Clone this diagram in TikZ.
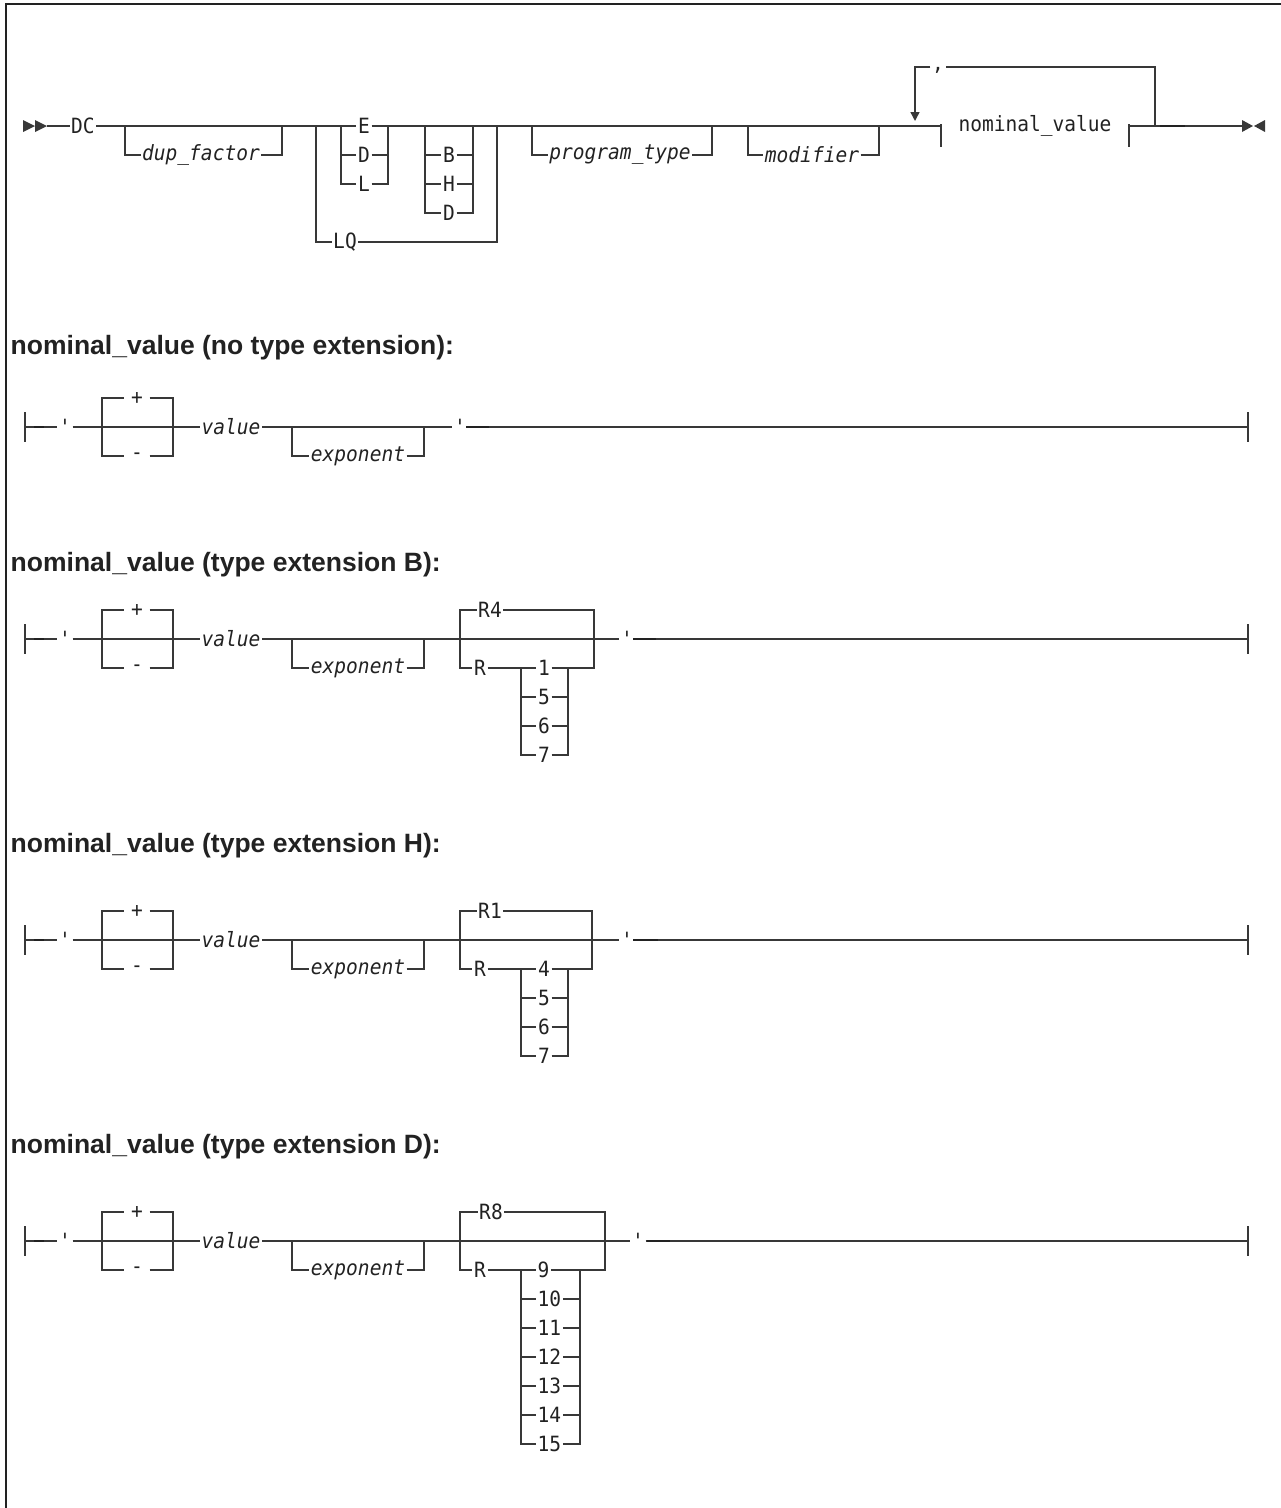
\documentclass[tikz,border=0pt]{standalone}
\usepackage{fontspec}
\setmainfont{Liberation Sans}
\setsansfont{Liberation Sans}
\setmonofont[FakeStretch=0.93]{DejaVu Sans Mono}
\usetikzlibrary{arrows.meta}

\definecolor{railgray}{HTML}{383838}
\definecolor{inkgray}{HTML}{222222}

\tikzset{
  kw/.style={font=\fontsize{21}{22}\selectfont\ttfamily, text=inkgray, inner sep=1pt},
  var/.style={font=\fontsize{21}{22}\selectfont\ttfamily\itshape, text=inkgray, inner sep=1pt},
  sign/.style={kw, inner xsep=6pt},
  heading/.style={font=\fontsize{26.5}{28}\selectfont\sffamily\bfseries, text=inkgray, anchor=west, inner sep=0pt},
  stub/.style={line width=2.6pt, draw=inkgray},
  frame/.style={line width=2.4pt, draw=inkgray},
}

% common start of every nominal_value diagram
\newcommand\signvalue{%
  \coordinate (st) at (25,0);
  \node[kw] (q1) at (65,0) {'};
  \coordinate (s1) at (102,0);
  \coordinate (s2) at (173,0);
  \node[sign] (plus) at (137,-29) {+};
  \node[sign] (minus) at (137,29) {-};
  \node[var] (val) at (231,0) {value};
  \coordinate (x1) at (292,0);
  \coordinate (x2) at (424,0);
  \node[var] (expo) at (358,29) {exponent};
  \draw ([yshift=15pt]st) -- ([yshift=-15pt]st);
  \draw (st) -- (q1) -- (s1) -- (val) -- (x1) -- (x2);
  \draw[stub] ([xshift=9pt]st) -- ([xshift=19pt]st);
  \draw (s1) |- (plus) -| (s2);
  \draw (s1) |- (minus) -| (s2);
  \draw (x1) |- (expo) -| (x2);
}

\begin{document}
\begin{tikzpicture}[x=1pt,y=-1pt,color=railgray,line width=1.4pt]
\useasboundingbox (0,0) rectangle (1281,1508);
\draw[frame] (6,1508) -- (6,4) -- (1281,4);

% DC statement
\fill (23,120) -- (35,126) -- (23,132) -- cycle;
\fill (35,120) -- (47,126) -- (35,132) -- cycle;
\coordinate (go) at (47,126);
\node[kw] (dc) at (83,126) {DC};
\coordinate (j1) at (125,126);
\coordinate (j2) at (282,126);
\node[var] (dup) at (201,155) {dup\_factor};
\coordinate (q1) at (316,126);
\coordinate (e1) at (341,126);
\coordinate (e2) at (388,126);
\node[kw] (E) at (364,126) {E};
\node[kw] (D) at (364,155) {D};
\node[kw] (L) at (364,184) {L};
\coordinate (b1) at (425,126);
\coordinate (b2) at (473,126);
\node[kw] (B) at (449,155) {B};
\node[kw] (H) at (449,184) {H};
\node[kw] (D2) at (449,213) {D};
\coordinate (q2) at (497,126);
\node[kw] (LQ) at (345,242) {LQ};
\coordinate (p1) at (532,126);
\coordinate (p2) at (712,126);
\node[var] (prog) at (620,155) {program\_type};
\coordinate (m1) at (748,126);
\coordinate (m2) at (879,126);
\node[var] (mod) at (812,155) {modifier};
\coordinate (r1) at (915,126);
\coordinate (rt) at (915,121);
\node[kw, inner xsep=17pt] (nv) at (1035,126) {nominal\_value};
\coordinate (r2) at (1155,126);
\node[kw, text height=6pt, text depth=0pt] (cm) at (938,67) {,};
\coordinate (ea) at (1242,126);

\draw (go) -- (dc) -- (j1) -- (j2) -- (q1) -- (e1) -- (E) -- (e2) -- (b1) -- (b2) -- (q2) -- (p1) -- (p2) -- (m1) -- (m2) -- (nv.west);
\draw (j1) |- (dup) -| (j2);
\draw (e1 |- D) -- (D) -- (e2 |- D);
\draw (e1) |- (L) -| (e2);
\draw (b1 |- B) -- (B) -- (b2 |- B);
\draw (b1 |- H) -- (H) -- (b2 |- H);
\draw (b1) |- (D2) -| (b2);
\draw (q1) |- (LQ) -| (q2);
\draw (p1) |- (prog) -| (p2);
\draw (m1) |- (mod) -| (m2);
\draw ([yshift=2pt]nv.west) -- ([yshift=-21pt]nv.west);
\draw ([yshift=2pt]nv.east) -- ([yshift=-21pt]nv.east);
\draw (nv.east) -- (r2) -- (ea);
\draw[-{Triangle[width=9pt,length=9pt]}] (r2) |- (cm) -| (rt);
\draw[stub] ([xshift=5pt]r2) -- ([xshift=30pt]r2);
\fill (ea) ++(0,-6) -- ++(11,6) -- ++(-11,6) -- cycle;
\fill (ea) ++(23,-6) -- ++(-11,6) -- ++(11,6) -- cycle;

% no type extension
\node[heading] (h1) at (10,348) {nominal\_value (no type extension):};
\begin{scope}[shift={(0,427)}, name prefix=a-]
  \signvalue
  \node[kw] (q2) at (460,0) {'};
  \coordinate (fin) at (1248,0);
  \draw (x2) -- (q2) -- (fin);
  \draw[stub] ([xshift=6pt]q2.center) -- ([xshift=29pt]q2.center);
  \draw ([yshift=15pt]fin) -- ([yshift=-15pt]fin);
\end{scope}

% type extension B
\node[heading] (h2) at (10,565) {nominal\_value (type extension B):};
\begin{scope}[shift={(0,639)}, name prefix=b-]
  \signvalue
  \coordinate (g1) at (460,0);
  \coordinate (g2) at (594,0);
  \node[kw] (rdef) at (490,-29) {R4};
  \node[kw] (rr) at (480,29) {R};
  \coordinate (k1) at (521,29);
  \coordinate (k2) at (568,29);
  \node[kw] (n1) at (544,29) {1};
  \node[kw] (n2) at (544,58) {5};
  \node[kw] (n3) at (544,87) {6};
  \node[kw] (n4) at (544,116) {7};
  \node[kw] (q2) at (627,0) {'};
  \coordinate (fin) at (1248,0);
  \draw (x2) -- (g1) -- (g2) -- (q2) -- (fin);
  \draw (g1) |- (rdef) -| (g2);
  \draw (g1) |- (rr) -- (k1) -- (n1) -- (k2) -| (g2);
  \draw (k1 |- n2) -- (n2) -- (k2 |- n2);
  \draw (k1 |- n3) -- (n3) -- (k2 |- n3);
  \draw (k1) |- (n4) -| (k2);
  \draw[stub] ([xshift=6pt]q2.center) -- ([xshift=29pt]q2.center);
  \draw ([yshift=15pt]fin) -- ([yshift=-15pt]fin);
\end{scope}

% type extension H
\node[heading] (h3) at (10,846) {nominal\_value (type extension H):};
\begin{scope}[shift={(0,940)}, name prefix=c-]
  \signvalue
  \coordinate (g1) at (460,0);
  \coordinate (g2) at (592,0);
  \node[kw] (rdef) at (490,-29) {R1};
  \node[kw] (rr) at (480,29) {R};
  \coordinate (k1) at (521,29);
  \coordinate (k2) at (568,29);
  \node[kw] (n1) at (544,29) {4};
  \node[kw] (n2) at (544,58) {5};
  \node[kw] (n3) at (544,87) {6};
  \node[kw] (n4) at (544,116) {7};
  \node[kw] (q2) at (627,0) {'};
  \coordinate (fin) at (1248,0);
  \draw (x2) -- (g1) -- (g2) -- (q2) -- (fin);
  \draw (g1) |- (rdef) -| (g2);
  \draw (g1) |- (rr) -- (k1) -- (n1) -- (k2) -| (g2);
  \draw (k1 |- n2) -- (n2) -- (k2 |- n2);
  \draw (k1 |- n3) -- (n3) -- (k2 |- n3);
  \draw (k1) |- (n4) -| (k2);
  \draw[stub] ([xshift=6pt]q2.center) -- ([xshift=31pt]q2.center);
  \draw ([yshift=15pt]fin) -- ([yshift=-15pt]fin);
\end{scope}

% type extension D
\node[heading] (h4) at (10,1147) {nominal\_value (type extension D):};
\begin{scope}[shift={(0,1241)}, name prefix=d-]
  \signvalue
  \coordinate (g1) at (460,0);
  \coordinate (g2) at (605,0);
  \node[kw] (rdef) at (491,-29) {R8};
  \node[kw] (rr) at (480,29) {R};
  \coordinate (k1) at (521,29);
  \coordinate (k2) at (580,29);
  \node[kw, anchor=west] (n1) at (536,29) {9};
  \node[kw, anchor=west] (n2) at (536,58) {10};
  \node[kw, anchor=west] (n3) at (536,87) {11};
  \node[kw, anchor=west] (n4) at (536,116) {12};
  \node[kw, anchor=west] (n5) at (536,145) {13};
  \node[kw, anchor=west] (n6) at (536,174) {14};
  \node[kw, anchor=west] (n7) at (536,203) {15};
  \node[kw] (q2) at (638,0) {'};
  \coordinate (fin) at (1248,0);
  \draw (x2) -- (g1) -- (g2) -- (q2) -- (fin);
  \draw (g1) |- (rdef) -| (g2);
  \draw (g1) |- (rr) -- (k1) -- (n1) -- (k2) -| (g2);
  \foreach \n in {n2,n3,n4,n5,n6}
    \draw (k1 |- \n) -- (\n) -- (k2 |- \n);
  \draw (k1) |- (n7) -| (k2);
  \draw[stub] ([xshift=9pt]q2.center) -- ([xshift=32pt]q2.center);
  \draw ([yshift=15pt]fin) -- ([yshift=-15pt]fin);
\end{scope}
\end{tikzpicture}
\end{document}
